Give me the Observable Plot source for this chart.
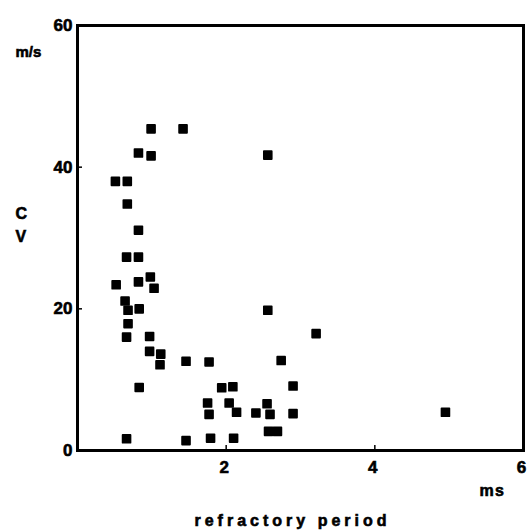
<!DOCTYPE html>
<html>
<head>
<meta charset="utf-8">
<script src="https://cdn.jsdelivr.net/npm/d3@7"></script>
<script src="https://cdn.jsdelivr.net/npm/@observablehq/plot@0.6"></script>
<style>
  html, body { margin: 0; padding: 0; background: #fff; }
  #chart svg { display: block; }
  #chart svg text { font-weight: bold; stroke: #000; stroke-width: 0.6px; }
</style>
</head>
<body>
<div id="chart"></div>
<script>
// refractory period (ms)
const refractory = [
  0.99, 1.42, 0.82, 0.99, 0.51, 0.67, 0.67, 0.82, 0.66, 0.82,
  0.52, 0.82, 0.98, 1.03, 0.64, 0.68, 0.83, 0.68, 0.66, 0.97,
  0.97, 1.12, 1.11, 1.46, 1.77, 0.83, 0.66, 1.46, 1.79, 2.10,
  1.94, 2.09, 1.75, 2.04, 1.77, 2.14, 2.40, 2.55, 2.59, 2.90,
  2.57, 2.69, 2.90, 2.74, 3.21, 2.56, 2.56, 4.95
];
// conduction velocity (m/s)
const cv = [
  45.4, 45.4, 42.0, 41.6, 38.0, 38.0, 34.8, 31.1, 27.3, 27.3,
  23.4, 23.8, 24.5, 22.9, 21.1, 19.8, 20.0, 17.9, 16.0, 16.1,
  14.0, 13.6, 12.1, 12.6, 12.5, 8.9, 1.65, 1.4, 1.74, 1.74,
  8.85, 9.0, 6.7, 6.7, 5.1, 5.4, 5.3, 6.6, 5.1, 5.2,
  2.7, 2.7, 9.1, 12.7, 16.5, 19.8, 41.7, 5.4
];
const xTicks = [2, 4, 6];
const yTicks = [0, 20, 40, 60];
const xUnit = "ms";
const yUnit = "m/s";
const yName = ["C", "V"];
const xName = "refractory period";

const data = refractory.map((x, i) => ({x, y: cv[i]}));
const font = "'Liberation Sans', Arial, sans-serif";

const chart = Plot.plot({
  width: 530,
  height: 530,
  marginLeft: 77,
  marginRight: 7,
  marginTop: 25,
  marginBottom: 80,
  style: {fontFamily: font, fontSize: "16px", fontWeight: "bold", color: "#000", background: "#fff"},
  x: {domain: [0, 6], label: null},
  y: {domain: [0, 60], label: null},
  marks: [
    Plot.frame({stroke: "#000", strokeWidth: 3}),
    Plot.axisX({ticks: xTicks, tickSize: -5, text: null, label: null, strokeWidth: 1.5}),
    Plot.axisX({ticks: xTicks, tickSize: 0, tickPadding: 10, tickFormat: "d", dx: -2, label: null, fontSize: 17}),
    Plot.axisY({ticks: yTicks.filter(d => d > 0 && d < 60), tickSize: -5, text: null, label: null, strokeWidth: 1.5}),
    Plot.axisY({ticks: yTicks, tickSize: 0, tickPadding: 5, tickFormat: "d", label: null, fontSize: 17}),
    Plot.dot(data, {x: "x", y: "y", symbol: "square", r: 4.4, fill: "#000", stroke: "#000", strokeWidth: 1.8, strokeLinejoin: "round"}),
    Plot.text([yUnit], {frameAnchor: "top-left", dx: -62, dy: 21, fontSize: 15}),
    Plot.text([yName[0]], {frameAnchor: "top-left", dx: -62, dy: 182, fontSize: 16}),
    Plot.text([yName[1]], {frameAnchor: "top-left", dx: -62, dy: 205, fontSize: 16}),
    Plot.text([xUnit], {frameAnchor: "bottom-right", dx: -18, dy: 45, fontSize: 16}),
    Plot.text([xName], {frameAnchor: "bottom", dx: -8, dy: 75, fontSize: 16})
  ]
});
d3.select(chart).selectAll("text").each(function() {
  const t = this.textContent;
  if (t === xName) d3.select(this).attr("letter-spacing", "4px");
  if (t === xUnit) d3.select(this).attr("letter-spacing", "1.5px");
});
document.getElementById("chart").appendChild(chart);
</script>
</body>
</html>
